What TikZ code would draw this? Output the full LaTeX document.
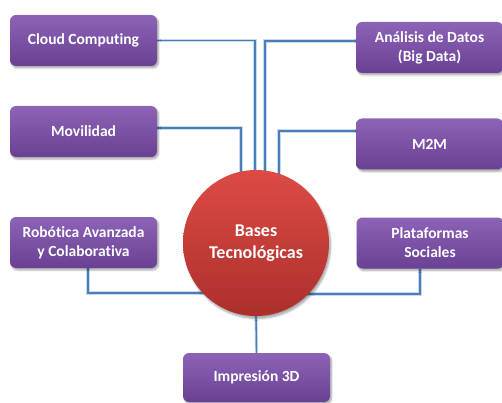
\documentclass[tikz,border=0pt]{standalone}
\usepackage{fontspec}
\setmainfont[Ligatures={NoCommon}]{Carlito}
\usepackage{tikz}
\usetikzlibrary{shadows.blur,backgrounds}

\definecolor{boxtop}{HTML}{8D63B8}
\definecolor{boxbottom}{HTML}{6A4094}
\definecolor{hubtop}{HTML}{DD4B45}
\definecolor{hubbottom}{HTML}{AC2F2B}
\definecolor{link}{HTML}{4A7EBB}
\definecolor{linkglow}{HTML}{C9DAEE}

\begin{document}
\begin{tikzpicture}[x=1pt,y=-1pt,
		techbox/.style={rectangle, rounded corners=6pt, minimum width=147pt, minimum height=51pt,
			top color=boxtop, bottom color=boxbottom, draw=none, text=white, align=center,
			font=\fontsize{15.5}{19}\selectfont\bfseries,
			blur shadow={shadow xshift=1.5pt, shadow yshift=-2pt, shadow blur steps=5, shadow opacity=35}},
		hubnode/.style={circle, minimum size=146pt, inner sep=0pt, top color=hubtop, bottom color=hubbottom,
			text=white, align=center, font=\fontsize{18}{21.7}\selectfont\bfseries,
			blur shadow={shadow xshift=1.5pt, shadow yshift=-2.5pt, shadow blur steps=6, shadow opacity=35}},
		link/.style={draw=link, line width=1.4pt, preaction={draw=linkglow, line width=3.2pt}}]
		\useasboundingbox (0,0) rectangle (502,403);
%		\draw[help lines,step=20] (0,0) grid (502,403);
		\path (256,243) coordinate (hub_pos);
		\path (83.5,40.5) coordinate (cloud_pos);
		\path (429.5,47.5) coordinate (ana_pos);
		\path (83.5,131.5) coordinate (mov_pos);
		\path (429.5,144) coordinate (m2m_pos);
		\path (83.5,242.5) coordinate (robot_pos);
		\path (430,243) coordinate (plat_pos);
		\path (256.5,377.5) coordinate (print_pos);

		\node[hubnode] (hub) at (hub_pos) {Bases\\Tecnológicas};
		\node[techbox] (cloud) at (cloud_pos) {Cloud Computing};
		\node[techbox] (ana) at (ana_pos) {Análisis de Datos\\(Big Data)};
		\node[techbox] (mov) at (mov_pos) {Movilidad};
		\node[techbox] (m2m) at (m2m_pos) {M2M};
		\node[techbox] (robot) at (robot_pos) {Robótica Avanzada\\y Colaborativa};
		\node[techbox] (plat) at (plat_pos) {Plataformas\\Sociales};
		\node[techbox, minimum height=49pt] (print) at (print_pos) {Impresión 3D};

		% the links go under the boxes and the circle
		\begin{scope}[on background layer]
			\draw[link] (cloud.east) -| ([xshift=-1pt]hub.center);
			\draw[link] ([yshift=6.5pt]ana.west) -| ([xshift=9pt]hub.center);
			\draw[link] ([yshift=3.5pt]mov.east) -| ([xshift=-15pt]hub.center);
			\draw[link] ([yshift=13pt]m2m.west) -| ([xshift=23pt]hub.center);
			\draw[link] ([xshift=4.5pt]robot.south) |- ([yshift=-50pt]hub.center);
			\draw[link] ([xshift=-10pt]plat.south) |- ([yshift=-51pt]hub.center);
			\draw[link] (hub.south) -- (print.north);
		\end{scope}
	\end{tikzpicture}
\end{document}
